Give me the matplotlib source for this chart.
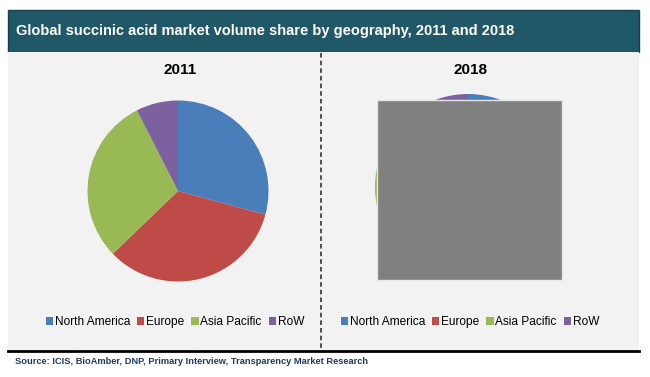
import matplotlib
matplotlib.use("Agg")
import matplotlib.pyplot as plt
from matplotlib import font_manager
from matplotlib.patches import Rectangle
from matplotlib.lines import Line2D

# ---- data ----
REGIONS = ["North America", "Europe", "Asia Pacific", "RoW"]
SHARE_2011 = [29.2, 33.6, 29.7, 7.5]
SHARE_2018 = [27.0, 31.0, 33.0, 9.0]
YEARS = ["2011", "2018"]
TITLE = "Global succinic acid market volume share by geography, 2011 and 2018"
SOURCE = "Source: ICIS, BioAmber, DNP, Primary Interview, Transparency Market Research"

# ---- palette ----
COLORS = ["#4A7EBB", "#BE4B48", "#98B954", "#7D60A0"]
C_BAR = "#215868"
C_PANEL = "#F2F2F2"
C_SRC = "#1F3A60"

W, H = 650, 377
names = {f.name for f in font_manager.fontManager.ttflist}
NARROW = "Liberation Sans Narrow" if "Liberation Sans Narrow" in names else "Liberation Sans"
plt.rcParams["font.family"] = [NARROW, "DejaVu Sans"]


def fx(x):
    return x / W


def fy(y):
    return 1 - y / H


fig = plt.figure(figsize=(W / 100, H / 100), dpi=100)
fig.patch.set_facecolor("white")

# title bar and panel
fig.add_artist(Rectangle((fx(8), fy(52)), fx(631), 42 / H, transform=fig.transFigure,
                         facecolor=C_BAR, edgecolor="#17404C", lw=1, zorder=1))
fig.add_artist(Rectangle((fx(8), fy(350)), fx(631), 298 / H, transform=fig.transFigure,
                         facecolor=C_PANEL, edgecolor="none", zorder=1))
fig.text(fx(16), fy(31), TITLE, color="white", fontsize=10.5, fontweight="bold",
         va="center", ha="left", zorder=2)

# divider and bottom rule
fig.add_artist(Line2D([fx(321), fx(321)], [fy(53), fy(350)], transform=fig.transFigure,
                      color="#222222", lw=1.1, ls=(0, (3, 2)), zorder=2))
fig.add_artist(Line2D([fx(8), fx(639)], [fy(351), fy(351)], transform=fig.transFigure,
                      color="black", lw=2, zorder=2))
fig.text(fx(15), fy(361), SOURCE, color=C_SRC, fontsize=6.7, fontweight="bold",
         va="center", ha="left")

# pies: (centre x, centre y, radius, values, legend centre x) in pixels
PIES = [(178, 191, 90.5, SHARE_2011, 175), (468, 187, 93, SHARE_2018, 470)]
for (cx, cy, r, vals, lx), year in zip(PIES, YEARS):
    ax = fig.add_axes([fx(cx - r), fy(cy + r), 2 * r / W, 2 * r / H])
    ax.set_zorder(3)
    wedges, _ = ax.pie(vals, colors=COLORS, startangle=90, counterclock=False,
                       radius=1, wedgeprops=dict(edgecolor="none"))
    ax.set_xlim(-1, 1)
    ax.set_ylim(-1, 1)
    ax.axis("off")
    fig.text(fx(cx + 2), fy(70), year, fontsize=11, fontweight="bold",
             ha="center", va="center", zorder=4)
    fig.legend(wedges, REGIONS, loc="center", bbox_to_anchor=(fx(lx), fy(322)),
               ncol=4, frameon=False, fontsize=8.6, handlelength=0.6, handleheight=0.6,
               handletextpad=0.15, columnspacing=0.6, borderaxespad=0)

# grey block covering the 2018 pie
fig.add_artist(Rectangle((fx(377), fy(280)), fx(185), 180 / H, transform=fig.transFigure,
                         facecolor="#808080", edgecolor="#E6E6E6", lw=1, zorder=10))

fig.savefig("out.png", dpi=100)
